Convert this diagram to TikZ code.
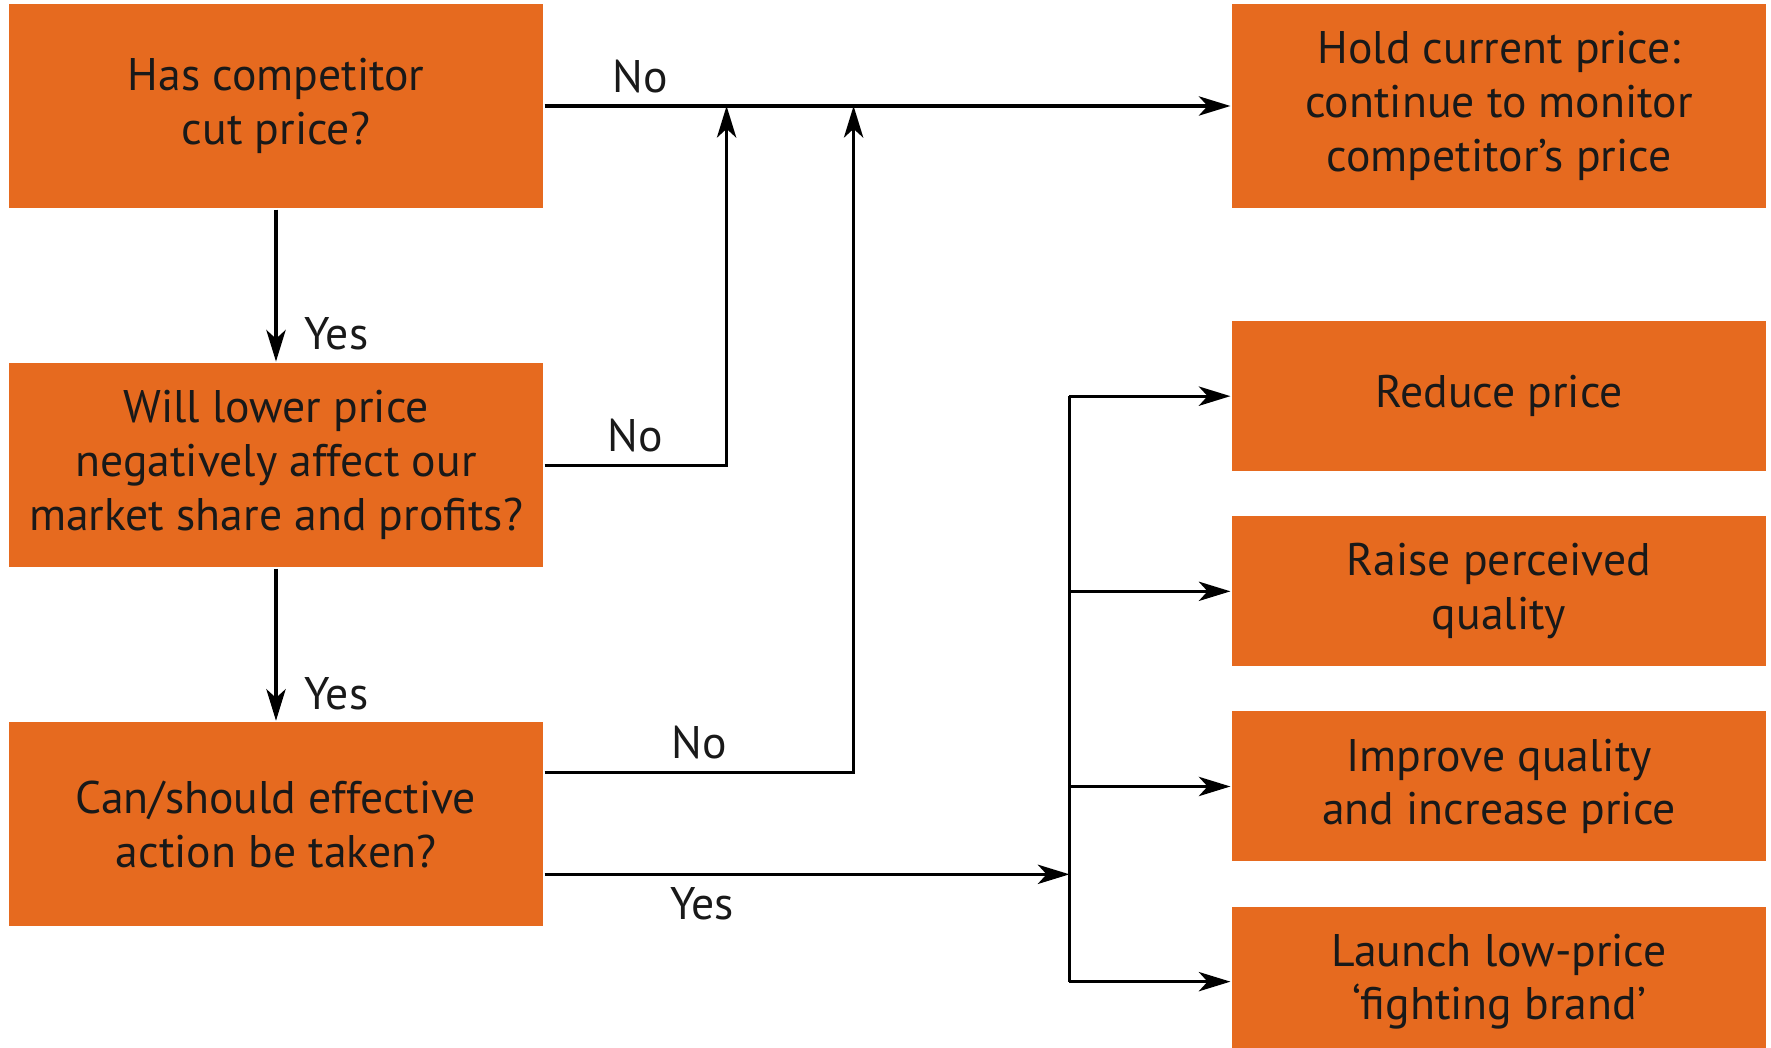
\documentclass[tikz,border=0pt]{standalone}
\usepackage{fontspec}
\setmainfont{PT Sans}
\usepackage{tikz}
\usetikzlibrary{positioning,arrows.meta}
\definecolor{boxorange}{HTML}{E66A1F}

\begin{document}
\begin{tikzpicture}[
    ->,
    >={Stealth[length=9pt,width=5.5pt,inset=2.5pt]},
    line width=0.9pt,
    node distance=1.52cm,
    every node/.style={font=\fontsize{13}{15.3}\selectfont, text=black!90},
    question/.style={fill=boxorange, minimum width=5.34cm, minimum height=2.04cm, align=center, inner sep=0pt},
    choice/.style={question, minimum height=1.5cm}
]
    \useasboundingbox (0,0) rectangle (17.71,-10.48);

    \node[question] (cut) at (2.76,-1.06) {Has competitor\\cut price?};
    \node[question, below=of cut] (lower) {Will lower price\\negatively affect our\\market share and profits?};
    \node[question, below=of lower] (act) {Can/should effective\\action be taken?};

    \node[question] (hold) at (14.99,-1.06) {Hold current price:\\continue to monitor\\competitor’s price};
    \node[choice, below=1.1cm of hold] (reduce) {Reduce price};
    \node[choice, below=0.42cm of reduce] (raise) {Raise perceived\\quality};
    \node[choice, below=0.42cm of raise] (improve) {Improve quality\\and increase price};
    \node[choice, below=0.42cm of improve] (launch) {Launch low-price\\‘fighting brand’};

    \coordinate (up1) at ([xshift=1.82cm]cut.east);
    \coordinate (up2) at ([xshift=3.09cm]cut.east);
    \coordinate (bus) at ([xshift=-1.61cm]reduce.west);
    \coordinate (no3) at ([yshift=5.2mm]act.east);
    \coordinate (yes3) at ([yshift=-5mm]act.east);

    \path (cut) edge node[above, pos=0.14] {No} (hold);
    \path (cut) edge node[right, pos=0.82, xshift=1.5mm] {Yes} (lower);
    \path (lower) edge node[right, pos=0.82, xshift=1.5mm] {Yes} (act);

    \draw (lower.east) -| (up1) node[above, pos=0.25] {No};
    \draw (no3) -| (up2) node[above, pos=0.25] {No};
    \draw (yes3) -- (yes3 -| bus) node[below, pos=0.3] {Yes};

    \draw[-] (bus) -- (bus |- launch.west);
    \foreach \n in {reduce,raise,improve,launch}
        \draw (bus |- \n.west) -- (\n.west);
\end{tikzpicture}
\end{document}
